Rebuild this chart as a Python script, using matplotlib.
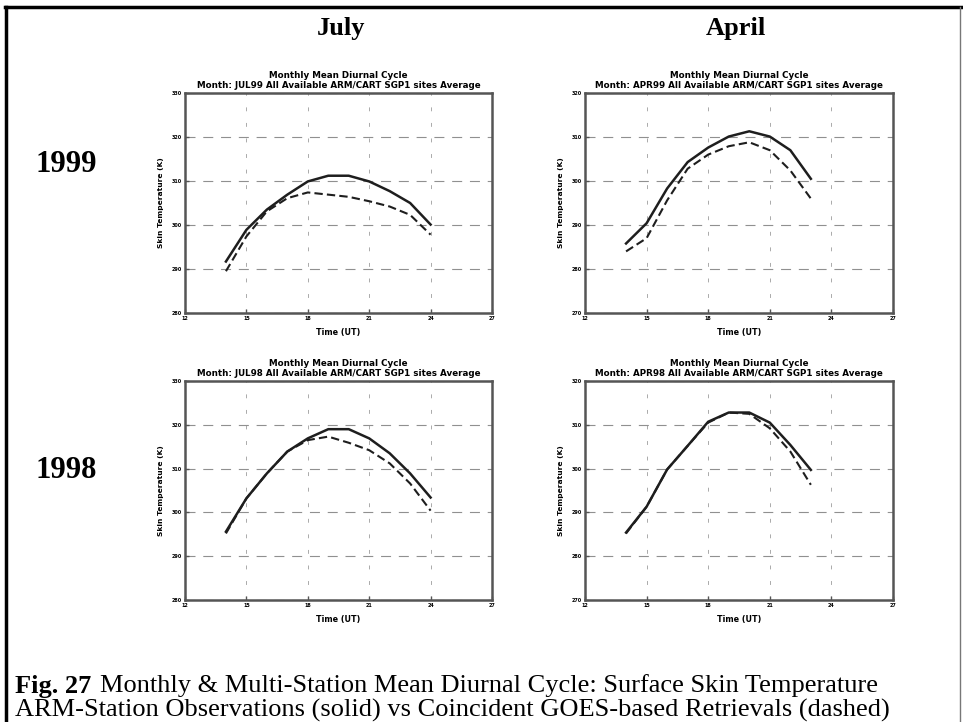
import matplotlib
matplotlib.use("Agg")
import matplotlib.pyplot as plt
from matplotlib.lines import Line2D

# hour of day (UT) of each sample
hours_jul = [14, 15, 16, 17, 18, 19, 20, 21, 22, 23, 24]
hours_apr = [14, 15, 16, 17, 18, 19, 20, 21, 22, 23]

# skin temperature (K): ARM station obs (solid) vs GOES retrievals (dashed)
jul99_arm = [291.7, 298.9, 303.5, 306.9, 309.9, 311.2, 311.2, 309.9, 307.7, 305.0, 300.1]
jul99_goes = [289.5, 297.4, 303.1, 306.1, 307.4, 306.9, 306.4, 305.4, 304.2, 302.3, 297.8]
apr99_arm = [285.8, 290.4, 298.3, 304.3, 307.6, 310.1, 311.3, 310.1, 307.0, 300.5]
apr99_goes = [284.0, 287.0, 295.6, 302.8, 306.0, 307.9, 308.8, 307.0, 302.4, 296.0]
jul98_arm = [295.6, 303.2, 308.9, 313.9, 316.9, 319.0, 319.0, 316.9, 313.5, 308.9, 303.4]
jul98_goes = [295.2, 303.2, 308.9, 313.9, 316.5, 317.3, 315.9, 314.2, 311.2, 306.6, 300.4]
apr98_arm = [285.4, 291.3, 299.8, 305.2, 310.7, 312.8, 312.8, 310.5, 305.4, 299.7]
apr98_goes = [285.2, 291.3, 299.8, 305.2, 310.5, 312.8, 312.5, 309.2, 303.9, 296.3]

x_ticks = [12, 15, 18, 21, 24, 27]
y_ticks_jul = [280, 290, 300, 310, 320, 330]
y_ticks_apr = [270, 280, 290, 300, 310, 320]

W, H = 963, 722
fig = plt.figure(figsize=(W / 100, H / 100), dpi=100)


def box(left, top, right, bottom):
    return [left / W, 1 - bottom / H, (right - left) / W, (bottom - top) / H]


def panel(rect, hours, arm, goes, yticks, month):
    ax = fig.add_axes(rect)
    ax.plot(hours, arm, color="#1e1e1e", lw=1.8, solid_joinstyle="round")
    ax.plot(hours, goes, color="#1e1e1e", lw=1.5, dashes=(4, 2))
    ax.set_xlim(x_ticks[0], x_ticks[-1])
    ax.set_ylim(yticks[0], yticks[-1])
    ax.set_xticks(x_ticks)
    ax.set_yticks(yticks)
    ax.tick_params(labelsize=3.5, length=3, width=1, color="#555555",
                   direction="in", pad=2)
    for lab in ax.get_xticklabels() + ax.get_yticklabels():
        lab.set_fontweight("bold")
    ax.grid(axis="y", color="#909090", lw=0.8, dashes=(9, 7))
    ax.grid(axis="x", color="#aaaaaa", lw=0.7, dashes=(4, 12))
    for s in ax.spines.values():
        s.set_color("#555555")
        s.set_linewidth(1.8)
    ax.set_xlabel("Time (UT)", fontsize=5.8, fontweight="bold", labelpad=5)
    ax.set_ylabel("Skin Temperature (K)", fontsize=5.4, fontweight="bold", labelpad=6)
    ax.set_title("Monthly Mean Diurnal Cycle\n"
                 "Month: %s All Available ARM/CART SGP1 sites Average" % month,
                 fontsize=6.3, fontweight="bold", pad=3.5, linespacing=1.2)
    return ax


panel(box(185, 93, 492, 313), hours_jul, jul99_arm, jul99_goes, y_ticks_jul, "JUL99")
panel(box(585, 93, 893, 313), hours_apr, apr99_arm, apr99_goes, y_ticks_apr, "APR99")
panel(box(185, 381, 492, 600), hours_jul, jul98_arm, jul98_goes, y_ticks_jul, "JUL98")
panel(box(585, 381, 893, 600), hours_apr, apr98_arm, apr98_goes, y_ticks_apr, "APR98")

serif = "Liberation Serif"
fig.text(341 / W, 1 - 28 / H, "July", family=serif, fontweight="bold",
         fontsize=19, ha="center", va="center")
fig.text(736 / W, 1 - 28 / H, "April", family=serif, fontweight="bold",
         fontsize=19, ha="center", va="center")
fig.text(66 / W, 1 - 165 / H, "1999", family=serif, fontweight="bold",
         fontsize=22, ha="center", va="center")
fig.text(66 / W, 1 - 470 / H, "1998", family=serif, fontweight="bold",
         fontsize=22, ha="center", va="center")

# caption
fig.text(15 / W, 1 - 686 / H, "Fig. 27", family=serif, fontweight="bold",
         fontsize=19, ha="left", va="center")
fig.text(100 / W, 1 - 686 / H,
         "Monthly & Multi-Station Mean Diurnal Cycle: Surface Skin Temperature",
         family=serif, fontsize=19, ha="left", va="center")
fig.text(15 / W, 1 - 710 / H,
         "ARM-Station Observations (solid) vs Coincident GOES-based Retrievals (dashed)",
         family=serif, fontsize=19, ha="left", va="center")

# outer frame
fig.add_artist(Line2D([6 / W, 6 / W], [0, 1 - 7 / H], color="black", lw=2.5,
                      transform=fig.transFigure))
fig.add_artist(Line2D([5 / W, 961 / W], [1 - 7 / H, 1 - 7 / H], color="black",
                      lw=2.5, transform=fig.transFigure))
fig.add_artist(Line2D([960 / W, 960 / W], [0, 1 - 7 / H], color="#777777", lw=1,
                      transform=fig.transFigure))

fig.savefig("out.png", dpi=100, facecolor="white")
